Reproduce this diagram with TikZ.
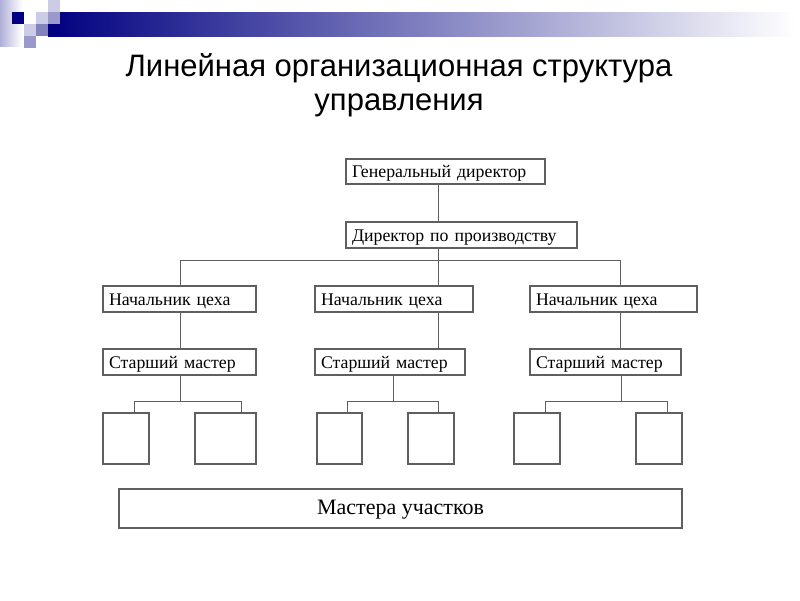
\documentclass[tikz,border=0pt]{standalone}
\usepackage{fontspec}
\setmainfont{Liberation Serif}
\newfontfamily\titlefont{Liberation Sans}
\definecolor{navy}{RGB}{0,0,128}
\definecolor{lav1}{RGB}{204,204,230}
\definecolor{lav2}{RGB}{153,153,204}
\definecolor{lav3}{RGB}{130,130,190}
\definecolor{lav4}{RGB}{175,175,215}
\definecolor{linegray}{RGB}{95,95,95}
\tikzset{
  box/.style={draw=linegray, line width=1.2pt, inner xsep=6pt, inner ysep=0pt,
    align=left, font=\fontsize{17.8}{19}\selectfont, fill=white,
    text height=14pt, text depth=2pt},
  emptybox/.style={draw=linegray, line width=1.2pt, inner sep=0pt},
  conn/.style={draw=linegray, line width=1pt},
}
\begin{document}
\begin{tikzpicture}[x=1pt,y=-1pt]
\useasboundingbox (0,0) rectangle (800,600);
% decoration
\shade[left color=navy, right color=white] (48,12) rectangle (795,36);
\shade[left color=lav4, right color=white] (0,0) rectangle (22,46);
\fill[navy] (12,12) rectangle (24,24);
\fill[lav1] (48,0) rectangle (60,12);
\fill[lav1] (36,12) rectangle (48,24);
\fill[lav2] (48,12) rectangle (60,24);
\fill[navy] (48,24) rectangle (60,36);
\fill[lav1] (24,24) rectangle (36,36);
\fill[lav3] (36,24) rectangle (48,36);
\fill[lav2] (24,36) rectangle (36,48);
% title
\node[font=\titlefont\fontsize{31}{34}\selectfont, align=center] (title) at (399,85)
  {Линейная организационная структура\\управления};
% boxes
\node[box, minimum height=25pt, text width=187pt] (gd) at (445.5,171.5) {Генеральный директор};
\node[box, minimum height=26pt, text width=219pt] (dp) at (461.5,235) {Директор по производству};
\node[box, minimum height=26pt, text width=141pt] (n1) at (179.5,299) {Начальник цеха};
\node[box, minimum height=26pt, text width=146pt] (n2) at (394,299) {Начальник цеха};
\node[box, minimum height=26pt, text width=155pt] (n3) at (613.5,299) {Начальник цеха};
\node[box, minimum height=26pt, text width=141pt] (s1) at (179.5,362) {Старший мастер};
\node[box, minimum height=26pt, text width=138pt] (s2) at (390,362) {Старший мастер};
\node[box, minimum height=26pt, text width=139pt] (s3) at (605.5,362) {Старший мастер};
\node[emptybox, minimum width=46pt, minimum height=51pt] (a1) at (126,438.5) {};
\node[emptybox, minimum width=61pt, minimum height=51pt] (a2) at (225.5,438.5) {};
\node[emptybox, minimum width=45pt, minimum height=51pt] (b1) at (339.5,438.5) {};
\node[emptybox, minimum width=46pt, minimum height=51pt] (b2) at (431,438.5) {};
\node[emptybox, minimum width=46pt, minimum height=51pt] (c1) at (537,438.5) {};
\node[emptybox, minimum width=46pt, minimum height=51pt] (c2) at (659,438.5) {};
\node[box, minimum width=563pt, minimum height=39pt, align=center, inner xsep=0pt,
  text height=16pt, text depth=4pt,
  font=\fontsize{22}{24}\selectfont] (ma) at (400.5,508.5) {Мастера участков};
% connector coordinates
\coordinate (tx) at (438,0);
\coordinate (lx) at (180,0);
\coordinate (rx) at (620,0);
\coordinate (bus) at (0,260);
\coordinate (sb) at (0,401);
\coordinate (g2x) at (393,0);
\coordinate (g3x) at (621,0);
% connectors
\draw[conn] (gd.south -| tx) -- (dp.north -| tx);
\draw[conn] (dp.south -| tx) -- (n2.north -| tx);
\draw[conn] (bus -| lx) -- (bus -| rx);
\draw[conn] (bus -| lx) -- (n1.north -| lx);
\draw[conn] (bus -| rx) -- (n3.north -| rx);
\draw[conn] (n1.south -| lx) -- (s1.north -| lx);
\draw[conn] (n2.south -| tx) -- (s2.north -| tx);
\draw[conn] (n3.south -| rx) -- (s3.north -| rx);
% group 1
\draw[conn] (s1.south -| lx) -- (sb -| lx);
\draw[conn] (a1.north -| 134,0) -- (sb -| 134,0) -- (sb -| 241,0) -- (a2.north -| 241,0);
% group 2
\draw[conn] (s2.south -| g2x) -- (sb -| g2x);
\draw[conn] (b1.north -| 347,0) -- (sb -| 347,0) -- (sb -| 438,0) -- (b2.north -| 438,0);
% group 3
\draw[conn] (s3.south -| g3x) -- (sb -| g3x);
\draw[conn] (c1.north -| 545,0) -- (sb -| 545,0) -- (sb -| 667,0) -- (c2.north -| 667,0);
\end{tikzpicture}
\end{document}
